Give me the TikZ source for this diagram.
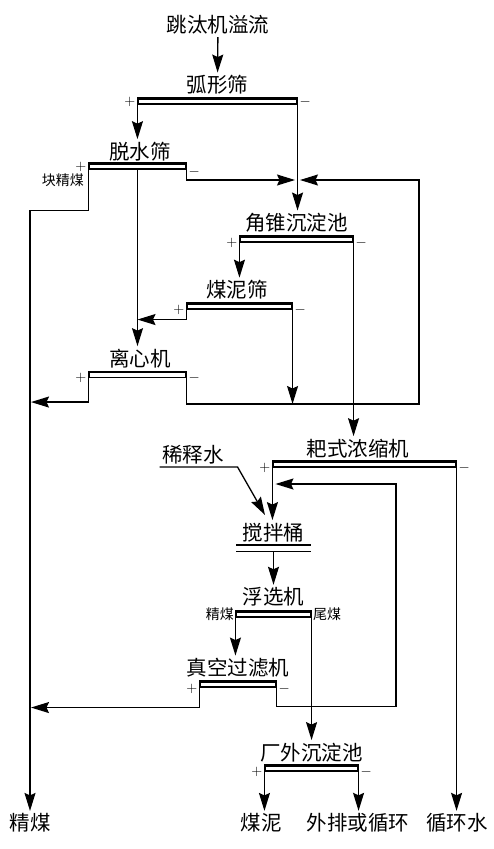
\documentclass[tikz,border=0pt]{standalone}
\usepackage{fontspec}
\setmainfont{Noto Sans CJK SC}
\usetikzlibrary{
  positioning,
  calc,
  arrows.meta
}

\tikzset{
  >={Stealth[length=18pt,width=11pt,inset=2.5pt]},
  lbl/.style={font=\fontsize{20.5}{24}\selectfont,inner sep=2pt},
  sm/.style={font=\fontsize{14}{16}\selectfont,inner sep=1pt},
  pm/.style={font=\fontsize{15}{17}\selectfont,inner sep=1.5pt,yshift=-3pt},
  bar/.style={draw,rectangle,minimum height=5pt,inner sep=0pt,line width=1.1pt}
}

\begin{document}
\begin{tikzpicture}[x=1pt,y=-1pt,line width=1.3pt]
    \path[fill=white] (0,0) rectangle (494,849);

    \node[bar,minimum width=159pt,label={[pm,yshift=3pt]left:$+$},label={[pm,yshift=3pt]right:$-$}] (3) at (217.5,101.5) {};
    \node[bar,minimum width=97pt,label={[pm,yshift=3pt]left:$+$},label={[pm,yshift=-2pt]right:$-$}] (5) at (137.5,166.5) {};
    \node[bar,minimum width=113pt,label={[pm]left:$+$},label={[pm]right:$-$}] (7) at (296.5,239.5) {};
    \node[bar,minimum width=105pt,label={[pm]left:$+$},label={[pm]right:$-$}] (9) at (239.5,306.5) {};
    \node[bar,minimum width=97pt,label={[pm]left:$+$},label={[pm]right:$-$}] (11) at (137.5,375) {};
    \node[bar,minimum width=183pt,label={[pm]left:$+$},label={[pm]right:$-$}] (13) at (364.5,464.5) {};
    \node[minimum width=73pt,minimum height=5pt,inner sep=0pt] (16) at (273.5,548.5) {};
    \node[bar,minimum width=75pt,label={[sm]left:精煤},label={[sm]right:尾煤}] (18) at (273.5,614.5) {};
    \node[bar,minimum width=76pt,label={[pm,yshift=-1pt]left:$+$},label={[pm,yshift=-1pt]right:$-$}] (20) at (238,684.5) {};
    \node[bar,minimum width=93pt,label={[pm]left:$+$},label={[pm]right:$-$}] (22) at (311.5,768.5) {};

    \node[lbl] (1) at (218,25) {跳汰机溢流};
    \node[lbl,above = 1.5pt of 3] (2) {弧形筛};
    \node[lbl,above = 0pt of 5,xshift=2.5pt] (4) {脱水筛};
    \node[sm,below left = 3pt and 3pt of 5.south west] (4a) {块精煤};
    \node[lbl,above = 1.5pt of 7] (6) {角锥沉淀池};
    \node[lbl,above = 1.5pt of 9,xshift=-2.5pt] (8) {煤泥筛};
    \node[lbl,above = 1.5pt of 11,xshift=2.5pt] (10) {离心机};
    \node[lbl,above = 1pt of 13,xshift=-6.5pt] (12) {耙式浓缩机};
    \node[lbl] (14) at (193,455) {稀释水};
    \node[lbl,above = 1pt of 16] (15) {搅拌桶};
    \node[lbl,above = 2.5pt of 18] (17) {浮选机};
    \node[lbl,above = 1.5pt of 20] (19) {真空过滤机};
    \node[lbl,above = 1pt of 22] (21) {厂外沉淀池};
    \node[lbl] (23) at (30,823) {精煤};
    \node[lbl] (24) at (261,823) {煤泥};
    \node[lbl] (25) at (358,823) {外排或循环};
    \node[lbl] (26) at (457,823) {循环水};

    \coordinate (m) at (297,180);
    \coordinate (r1) at (419,404);
    \coordinate (r2) at (396,484);
    \coordinate (c3) at (265,515);

    \foreach \n in {3,5,7,9,11,13,16,18,20,22}
      \draw[line width=2pt] (\n.north west) -- (\n.north east);
    \draw (16.south west) -- (16.south east);

    \draw[->] (1) -- (2);
    \draw[->] (3.south west) -- (3.south west |- 4.north);
    \draw[->] (3.south east) -- (3.south east |- 6.north);
    \draw[->] (5.south west) -- ++(0,41) -| (23.north);
    \draw[->] (5.south) -- (5.south |- 10.north);
    \draw[->,shorten >=2pt] (5.south east) |- (m);
    \draw[->] (7.south west) -- (7.south west |- 8.north);
    \draw[->] (7.south east) -- (7.south east |- 12.north);
    \draw[->] (9.south west) -- ++(0,10) coordinate (c1) -- (c1 -| 5.south);
    \draw[->] (9.south east) -- (9.south east |- r1);
    \draw[->,shorten >=1pt] (11.south west) -- ++(0,24) coordinate (c2) -- (c2 -| 23.north);
    \draw[->,shorten >=3pt] (11.south east) |- (r1) |- (m);
    \draw[->] (13.south west) -- (13.south west |- 15.north);
    \draw[->] (13.south east) -- (13.south east |- 26.north);
    \draw[->] (14.south west) -- ++(78,0) -- (c3);
    \draw[->] (16.south) -- (17);
    \draw[->] (18.south west) -- (18.south west |- 19.north);
    \draw[->] (18.south east) -- (18.south east |- 21.north);
    \draw[->,shorten >=1pt] (20.south west) -- ++(0,20) coordinate (c4) -- (c4 -| 23.north);
    \draw[->,shorten >=3pt] (20.south east) -- ++(0,19) -| (r2) -- (r2 -| 13.south west);
    \draw[->] (22.south west) -- (22.south west |- 24.north);
    \draw[->] (22.south east) -- (22.south east |- 25.north);
\end{tikzpicture}
\end{document}
